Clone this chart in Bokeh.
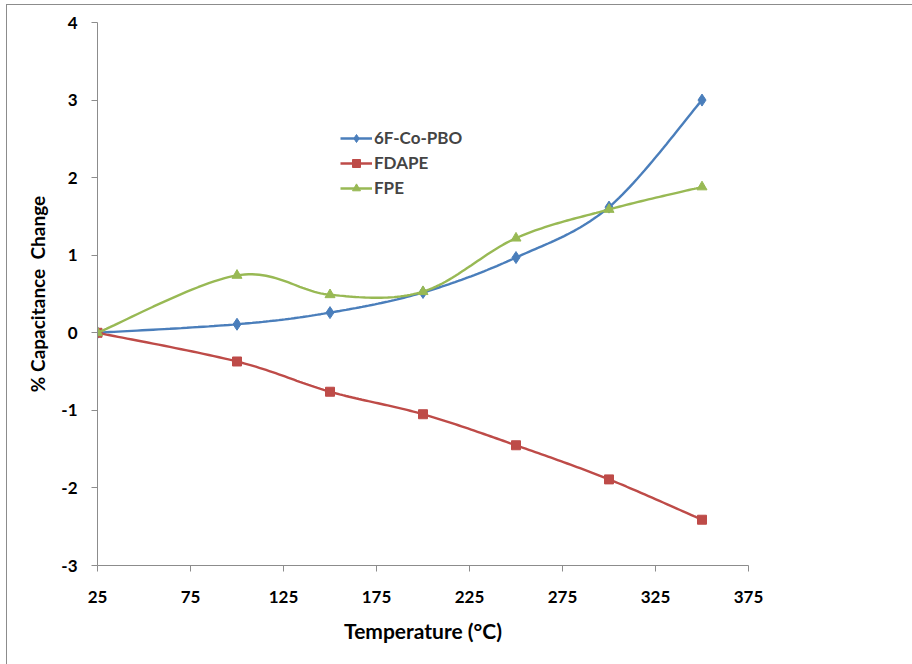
import numpy as np
from bokeh.plotting import figure
from bokeh.models import Range1d, FixedTicker, Legend, LegendItem
from bokeh.embed import file_html
from bokeh.resources import INLINE

temperature = [25, 100, 150, 200, 250, 300, 350]
pbo_6f = [0.0, 0.11, 0.26, 0.52, 0.97, 1.62, 3.0]
fdape = [0.0, -0.37, -0.76, -1.05, -1.45, -1.89, -2.41]
fpe = [0.0, 0.74, 0.49, 0.53, 1.22, 1.59, 1.88]

x_ticks = [25, 75, 125, 175, 225, 275, 325, 375]
y_ticks = [-3, -2, -1, 0, 1, 2, 3, 4]
y_tick_labels = {t: str(t) for t in y_ticks}

FONT = "Lato"


def smooth(xs, ys, n=30):
    # Bezier smoothing through the data points (like a spreadsheet "smoothed line")
    xs = np.asarray(xs, float)
    ys = np.asarray(ys, float)
    P = np.column_stack([xs, ys])
    out = []
    m = len(P)
    for i in range(m - 1):
        p0 = P[i - 1] if i > 0 else P[i]
        p1 = P[i]
        p2 = P[i + 1]
        p3 = P[i + 2] if i + 2 < m else P[i + 1]
        c1 = p1 + (p2 - p0) / 6.0
        c2 = p2 - (p3 - p1) / 6.0
        t = np.linspace(0, 1, n)[:, None]
        seg = ((1 - t) ** 3) * p1 + 3 * ((1 - t) ** 2) * t * c1 + 3 * (1 - t) * t ** 2 * c2 + t ** 3 * p2
        if i > 0:
            seg = seg[1:]
        out.append(seg)
    out = np.vstack(out)
    return out[:, 0], out[:, 1]


p = figure(width=906, height=660, output_backend="svg", toolbar_location=None,
           x_range=Range1d(25, 375), y_range=Range1d(-3, 4),
           min_border_left=90, min_border_right=165, min_border_top=17, min_border_bottom=100)
p.margin = (4, 0, 0, 6)
p.styles = {"border-left": "1px solid #8c8c8c", "border-top": "1px solid #8c8c8c"}
p.outline_line_color = None
p.xgrid.visible = False
p.ygrid.visible = False
p.background_fill_color = "white"
p.border_fill_color = "white"

for ax, ticks in ((p.xaxis, x_ticks), (p.yaxis, y_ticks)):
    ax.ticker = FixedTicker(ticks=ticks)
    ax.axis_line_color = "#8c8c8c"
    ax.major_tick_line_color = "#8c8c8c"
    ax.major_tick_out = 6
    ax.major_tick_in = 0
    ax.minor_tick_line_color = None
    ax.major_label_text_font = FONT
    ax.major_label_text_font_style = "bold"
    ax.major_label_text_font_size = "17px"
    ax.major_label_text_color = "black"
    ax.axis_label_text_font = FONT
    ax.axis_label_text_font_style = "bold"
    ax.axis_label_text_color = "black"

p.yaxis.major_label_overrides = y_tick_labels
p.xaxis.major_label_standoff = 19
p.yaxis.major_label_standoff = 14
p.xaxis.axis_label = "Temperature (°C)"
p.xaxis.axis_label_text_font_size = "21px"
p.xaxis.axis_label_standoff = 12
p.yaxis.axis_label = "% Capacitance\u00a0 Change"
p.yaxis.axis_label_text_font_size = "19px"
p.yaxis.axis_label_standoff = 9

series = [
    ("6F-Co-PBO", pbo_6f, "#4A7EBB", "diamond", 12),
    ("FDAPE", fdape, "#BE4B48", "square", 9),
    ("FPE", fpe, "#98B954", "triangle", 10),
]

items = []
for name, ys, color, marker, size in series:
    sx, sy = smooth(temperature, ys)
    r1 = p.line(sx, sy, line_color=color, line_width=2.4)
    r2 = p.scatter(temperature, ys, marker=marker, size=size, fill_color=color, line_color=color)
    items.append(LegendItem(label=name, renderers=[r1, r2]))

legend = Legend(items=items, location=(243, 367), orientation="vertical")
legend.border_line_color = None
legend.background_fill_alpha = 0
legend.label_text_font = FONT
legend.label_text_font_style = "bold"
legend.label_text_font_size = "17px"
legend.glyph_width = 32
legend.glyph_height = 20
legend.label_height = 20
legend.spacing = 4
legend.padding = 0
legend.margin = 0
legend.label_standoff = 2
p.add_layout(legend)

open("out.html", "w").write(file_html(p, INLINE))
